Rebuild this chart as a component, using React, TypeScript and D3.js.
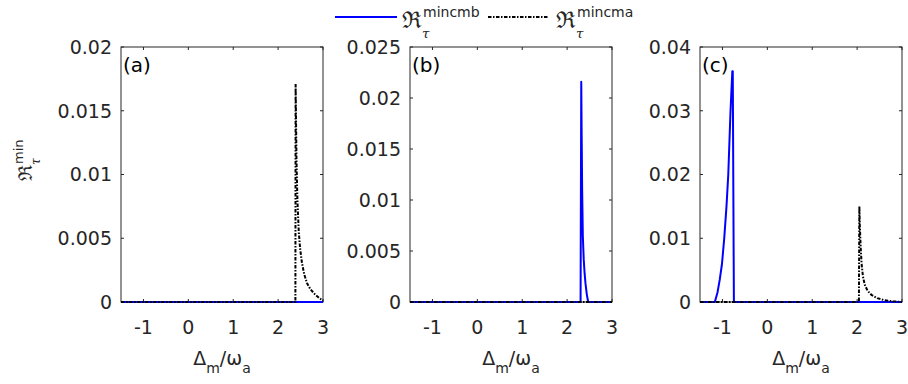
import React, { useRef, useEffect } from 'react';
import * as d3 from 'd3';

type Pt = [number, number];

// shared x axis
const xDomain: [number, number] = [-1.5, 3];
const xTicks = [-1, 0, 1, 2, 3];

// y axes per panel
const yDomainA: [number, number] = [0, 0.02];
const yTicksA = [0, 0.005, 0.01, 0.015, 0.02];
const yLabelsA = ['0', '0.005', '0.01', '0.015', '0.02'];

const yDomainB: [number, number] = [0, 0.025];
const yTicksB = [0, 0.005, 0.01, 0.015, 0.02, 0.025];
const yLabelsB = ['0', '0.005', '0.01', '0.015', '0.02', '0.025'];

const yDomainC: [number, number] = [0, 0.04];
const yTicksC = [0, 0.01, 0.02, 0.03, 0.04];
const yLabelsC = ['0', '0.01', '0.02', '0.03', '0.04'];

const panelNames = ['(a)', '(b)', '(c)'];

// series: mincmb (blue solid), mincma (black dash-dot)
const mincmbA: Pt[] = [[-1.5, 0], [3, 0]];
const mincmaA: Pt[] = [
  [-1.5, 0], [2.385, 0], [2.39, 0.0171], [2.40, 0.0140], [2.41, 0.0110], [2.43, 0.0080],
  [2.46, 0.0055], [2.49, 0.0042], [2.53, 0.0031], [2.58, 0.0022], [2.64, 0.0015],
  [2.72, 0.0010], [2.82, 0.0006], [2.92, 0.0003], [3.0, 0.0001],
];

const mincmbB: Pt[] = [
  [-1.5, 0], [2.30, 0], [2.315, 0.0216], [2.325, 0.016], [2.335, 0.011], [2.35, 0.0065],
  [2.37, 0.0042], [2.39, 0.0028], [2.41, 0.0018], [2.44, 0.0007], [2.47, 0], [3, 0],
];
const mincmaB: Pt[] = [[-1.5, 0], [3, 0]];

const mincmbC: Pt[] = [
  [-1.5, 0], [-1.17, 0], [-1.11, 0.0015], [-1.06, 0.0035], [-1.01, 0.0060], [-0.96, 0.010],
  [-0.91, 0.015], [-0.87, 0.020], [-0.82, 0.030], [-0.78, 0.0362], [-0.77, 0.0362],
  [-0.745, 0], [3, 0],
];
const mincmaC: Pt[] = [
  [-1.5, 0], [2.04, 0], [2.05, 0.0150], [2.06, 0.0120], [2.08, 0.0085], [2.10, 0.0060],
  [2.13, 0.0040], [2.17, 0.0027], [2.23, 0.0018], [2.32, 0.0011], [2.45, 0.0006],
  [2.6, 0.0003], [2.8, 0.0001], [3.0, 0],
];

const AX = '#262626';
const BLUE = '#0000ff';
const FONT = '"DejaVu Sans", "Liberation Sans", Arial, sans-serif';
const SERIF = '"DejaVu Serif", "Liberation Serif", serif';
const DASH = '3.5,1.5,1.5,1.5';

const App: React.FC = () => {
  const svgRef = useRef<SVGSVGElement>(null);
  const width = 908;
  const height = 384;

  useEffect(() => {
    if (!svgRef.current) return;
    const svg = d3.select(svgRef.current);
    svg.selectAll('*').remove();

    const lefts = [121, 410, 700];
    const pw = 202;
    const top = 47;
    const bottom = 302;

    const panels = [
      { yDomain: yDomainA, yTicks: yTicksA, yLabels: yLabelsA, blue: mincmbA, black: mincmaA },
      { yDomain: yDomainB, yTicks: yTicksB, yLabels: yLabelsB, blue: mincmbB, black: mincmaB },
      { yDomain: yDomainC, yTicks: yTicksC, yLabels: yLabelsC, blue: mincmbC, black: mincmaC },
    ];

    // Re symbol with subscript tau and a superscript
    const drawRe = (g: any, x: number, y: number, sup: string, size: number, supSize: number) => {
      const re = g.append('text')
        .attr('x', x).attr('y', y)
        .attr('font-family', SERIF).attr('font-size', size)
        .attr('fill', AX)
        .text('\u211C');
      const w = (re.node() as SVGTextElement).getComputedTextLength();
      g.append('text')
        .attr('x', x + w).attr('y', y + size * 0.42)
        .attr('font-family', SERIF).attr('font-style', 'italic')
        .attr('font-size', supSize * 0.95)
        .attr('fill', AX)
        .text('\u03C4');
      g.append('text')
        .attr('x', x + w + 1).attr('y', y - size * 0.5)
        .attr('font-family', FONT).attr('font-size', supSize)
        .attr('fill', AX)
        .text(sup);
    };

    panels.forEach((p, i) => {
      const left = lefts[i];
      const x = d3.scaleLinear().domain(xDomain).range([left, left + pw]);
      const y = d3.scaleLinear().domain(p.yDomain).range([bottom, top]);
      const g = svg.append('g');

      // box
      g.append('rect')
        .attr('x', left).attr('y', top)
        .attr('width', pw).attr('height', bottom - top)
        .attr('fill', 'none').attr('stroke', AX).attr('stroke-width', 1);

      // inward ticks on all sides
      xTicks.forEach(t => {
        g.append('line').attr('x1', x(t)).attr('x2', x(t)).attr('y1', bottom).attr('y2', bottom - 3).attr('stroke', AX);
        g.append('line').attr('x1', x(t)).attr('x2', x(t)).attr('y1', top).attr('y2', top + 3).attr('stroke', AX);
        g.append('text')
          .attr('x', x(t)).attr('y', 334)
          .attr('text-anchor', 'middle')
          .attr('font-family', FONT).attr('font-size', 19)
          .attr('fill', AX)
          .text(String(t));
      });
      p.yTicks.forEach((t, k) => {
        g.append('line').attr('x1', left).attr('x2', left + 3).attr('y1', y(t)).attr('y2', y(t)).attr('stroke', AX);
        g.append('line').attr('x1', left + pw).attr('x2', left + pw - 3).attr('y1', y(t)).attr('y2', y(t)).attr('stroke', AX);
        g.append('text')
          .attr('x', left - 9).attr('y', y(t)).attr('dy', '0.36em')
          .attr('text-anchor', 'end')
          .attr('font-family', FONT).attr('font-size', 19)
          .attr('fill', AX)
          .text(p.yLabels[k]);
      });

      const line = d3.line<Pt>().x(d => x(d[0])).y(d => y(d[1]));

      g.append('path')
        .datum(p.blue)
        .attr('d', line)
        .attr('fill', 'none').attr('stroke', BLUE).attr('stroke-width', 2)
        .attr('stroke-linejoin', 'round');

      g.append('path')
        .datum(p.black)
        .attr('d', line)
        .attr('fill', 'none').attr('stroke', '#000').attr('stroke-width', 2)
        .attr('stroke-dasharray', DASH);

      // panel label
      g.append('text')
        .attr('x', left + 2).attr('y', top + 25)
        .attr('font-family', FONT).attr('font-size', 20)
        .attr('fill', '#000')
        .text(panelNames[i]);

      // x label  Δm/ωa
      const xl = g.append('text')
        .attr('x', left + pw / 2).attr('y', 365)
        .attr('text-anchor', 'middle')
        .attr('font-family', FONT).attr('font-size', 19)
        .attr('fill', AX);
      xl.append('tspan').text('\u0394');
      xl.append('tspan').attr('font-size', 14).attr('dy', 8).text('m');
      xl.append('tspan').attr('dy', -8).text('/\u03C9');
      xl.append('tspan').attr('font-size', 14).attr('dy', 8).text('a');
    });

    // y label
    const yl = svg.append('g').attr('transform', 'translate(32,181) rotate(-90)');
    drawRe(yl, 0, 0, 'min', 19, 13);

    // legend
    const lg = svg.append('g');
    lg.append('line').attr('x1', 335).attr('x2', 397).attr('y1', 17).attr('y2', 17)
      .attr('stroke', BLUE).attr('stroke-width', 2);
    drawRe(lg, 402, 28, 'mincmb', 23, 14);
    lg.append('line').attr('x1', 488).attr('x2', 548).attr('y1', 17).attr('y2', 17)
      .attr('stroke', '#000').attr('stroke-width', 2)
      .attr('stroke-dasharray', DASH);
    drawRe(lg, 556, 28, 'mincma', 23, 14);
  }, []);

  return (
    <svg
      ref={svgRef}
      width={width}
      height={height}
      style={{ position: 'absolute', left: 0, top: 0, background: '#fff' }}
    />
  );
};

export default App;
